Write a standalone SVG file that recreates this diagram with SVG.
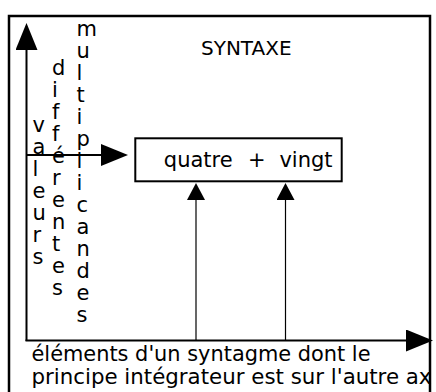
<svg xmlns="http://www.w3.org/2000/svg" width="436" height="392" viewBox="0 0 436 392">
  <style>
    .frame { fill: none; stroke: #000; stroke-width: 2.5; }
    .box { fill: #fff; stroke: #000; stroke-width: 2; }
    .axis { fill: none; stroke: #000; stroke-width: 2; }
    .thin { fill: none; stroke: #000; stroke-width: 1.2; }
    .lbl { font-family: "DejaVu Sans", "Liberation Sans", sans-serif; font-size: 21px; fill: #000; }
    .title { font-size: 20px; }
  </style>
  <defs>
    <!-- filled triangular heads; the line stops at the base of the head -->
    <marker id="headBig" markerUnits="userSpaceOnUse" viewBox="0 0 27 22" refX="0" refY="11" markerWidth="27" markerHeight="22" orient="auto">
      <path d="M0,0 L27,11 L0,22 Z" fill="#000"/>
    </marker>
    <marker id="headSmall" markerUnits="userSpaceOnUse" viewBox="0 0 17 18" refX="0" refY="9" markerWidth="17" markerHeight="18" orient="auto">
      <path d="M0,0 L17,9 L0,18 Z" fill="#000"/>
    </marker>
  </defs>

  <rect width="436" height="392" fill="#fff"/>

  <!-- outer frame (runs past the lower edge) -->
  <rect id="frame" class="frame" x="9" y="16" width="421" height="400"/>

  <g id="connectors">
    <!-- vertical axis -->
    <line class="axis" x1="26.5" y1="341" x2="26.5" y2="50" marker-end="url(#headBig)"/>
    <!-- horizontal axis -->
    <line class="axis" x1="25.5" y1="340.5" x2="406" y2="340.5" marker-end="url(#headBig)"/>
    <!-- arrow into the syntagm box -->
    <line class="axis" x1="26.5" y1="155" x2="101" y2="155" marker-end="url(#headBig)"/>
    <!-- arrows from the axis up to each element -->
    <line class="thin" x1="196" y1="340" x2="196" y2="200" marker-end="url(#headSmall)"/>
    <line class="thin" x1="285.5" y1="340" x2="285.5" y2="200" marker-end="url(#headSmall)"/>
  </g>

  <g id="syntaxe">
    <text class="lbl title" x="201" y="55">SYNTAXE</text>
  </g>

  <g id="syntagme">
    <rect class="box" x="135.3" y="138.3" width="206.4" height="43"/>
    <text class="lbl" y="166.7"><tspan x="163.8">quatre</tspan><tspan x="248">+</tspan><tspan x="279.4">vingt</tspan></text>
  </g>

  <!-- vertical words, one letter per line -->
  <g id="valeurs">
    <text class="lbl" x="32.5" y="132"><tspan x="32.5">v</tspan><tspan x="32.5" dy="22">a</tspan><tspan x="32.5" dy="22">l</tspan><tspan x="32.5" dy="22">e</tspan><tspan x="32.5" dy="22">u</tspan><tspan x="32.5" dy="22">r</tspan><tspan x="32.5" dy="22">s</tspan></text>
  </g>
  <g id="differentes">
    <text class="lbl" x="52" y="75"><tspan x="52">d</tspan><tspan x="52" dy="22">i</tspan><tspan x="52" dy="22">f</tspan><tspan x="52" dy="22">f</tspan><tspan x="52" dy="22">é</tspan><tspan x="52" dy="22">r</tspan><tspan x="52" dy="22">e</tspan><tspan x="52" dy="22">n</tspan><tspan x="52" dy="22">t</tspan><tspan x="52" dy="22">e</tspan><tspan x="52" dy="22">s</tspan></text>
  </g>
  <g id="multiplicandes">
    <text class="lbl" x="76.5" y="36"><tspan x="76.5">m</tspan><tspan x="76.5" dy="22">u</tspan><tspan x="76.5" dy="22">l</tspan><tspan x="76.5" dy="22">t</tspan><tspan x="76.5" dy="22">i</tspan><tspan x="76.5" dy="22">p</tspan><tspan x="76.5" dy="22">l</tspan><tspan x="76.5" dy="22">i</tspan><tspan x="76.5" dy="22">c</tspan><tspan x="76.5" dy="22">a</tspan><tspan x="76.5" dy="22">n</tspan><tspan x="76.5" dy="22">d</tspan><tspan x="76.5" dy="22">e</tspan><tspan x="76.5" dy="22">s</tspan></text>
  </g>

  <g id="legende">
    <text class="lbl" x="31.5" y="360.5" textLength="339" lengthAdjust="spacingAndGlyphs">éléments d'un syntagme dont le</text>
    <text class="lbl" x="31.5" y="383.5" textLength="400" lengthAdjust="spacingAndGlyphs">principe intégrateur est sur l'autre ax</text>
  </g>
</svg>
